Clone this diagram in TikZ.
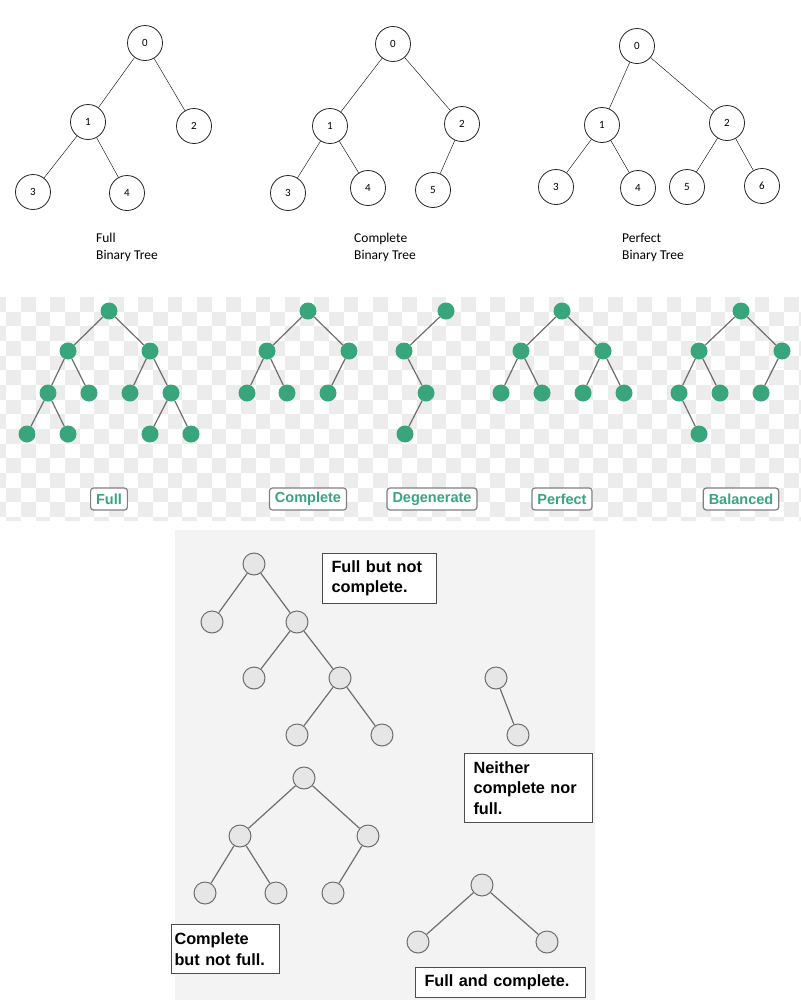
\documentclass[tikz,border=0pt]{standalone}
\usepackage{fontspec}
\setmainfont{Liberation Sans}
\newfontfamily\calfont{Carlito}
\definecolor{treegreen}{RGB}{56,165,125}
\definecolor{edgegrey}{RGB}{110,110,110}
\definecolor{checkgrey}{RGB}{236,236,236}
\definecolor{panelgrey}{RGB}{243,243,243}
\definecolor{nodegrey}{RGB}{230,230,230}
\tikzset{
  numnode/.style={circle, draw=black!85, line width=0.8pt, minimum size=35pt, inner sep=0pt, font=\calfont\fontsize{11}{11}\selectfont},
  dotnode/.style={circle, fill=treegreen, minimum size=17pt, inner sep=0pt},
  greynode/.style={circle, draw=edgegrey, fill=nodegrey, line width=1pt, minimum size=22pt, inner sep=0pt},
  kindtag/.style={draw=gray, line width=1.2pt, rounded corners=3pt, fill=white, text=treegreen, font=\bfseries\fontsize{14.5}{15}\selectfont, inner xsep=5.5pt, inner ysep=0pt, minimum height=22pt},
  notebox/.style={draw=black!70, line width=1pt, fill=white, anchor=north west, align=left, inner xsep=9pt, inner ysep=0pt, font=\bfseries\fontsize{16.3}{20.5}\selectfont},
  toplabel/.style={anchor=base west, inner sep=0pt, align=left, font=\calfont\fontsize{13.5}{16.5}\selectfont},
  gline/.style={draw=edgegrey, line width=1.2pt},
}
\begin{document}
\begin{tikzpicture}[x=1pt,y=-1pt]
        \useasboundingbox (0,0) rectangle (801,1002);
        \fill[white] (0,0) rectangle (801,1002);

        % top trees
        \node[numnode] (f0) at (145,43) {0};
        \node[numnode] (f1) at (88,122) {1};
        \node[numnode] (f2) at (194,126) {2};
        \node[numnode] (f3) at (33,192) {3};
        \node[numnode] (f4) at (127,193) {4};
        \draw (f0) -- (f1);\draw (f0) -- (f2);\draw (f1) -- (f3);\draw (f1) -- (f4);

        \node[numnode] (c0) at (393,44) {0};
        \node[numnode] (c1) at (330,126) {1};
        \node[numnode] (c2) at (462,124) {2};
        \node[numnode] (c3) at (288,193) {3};
        \node[numnode] (c4) at (368,188) {4};
        \node[numnode] (c5) at (433,190) {5};
        \draw (c0) -- (c1);\draw (c0) -- (c2);\draw (c1) -- (c3);\draw (c1) -- (c4);\draw (c2) -- (c5);

        \node[numnode] (p0) at (637,46) {0};
        \node[numnode] (p1) at (602,125) {1};
        \node[numnode] (p2) at (727,123) {2};
        \node[numnode] (p3) at (556,187) {3};
        \node[numnode] (p4) at (638,188) {4};
        \node[numnode] (p5) at (687,187) {5};
        \node[numnode] (p6) at (762,186) {6};
        \draw (p0) -- (p1);\draw (p0) -- (p2);\draw (p1) -- (p3);\draw (p1) -- (p4);\draw (p2) -- (p5);\draw (p2) -- (p6);

        \node[toplabel] (ftxt) at (96,259) {Full\\Binary Tree};
        \node[toplabel] (ctxt) at (354,259) {Complete\\Binary Tree};
        \node[toplabel] (ptxt) at (622,259) {Perfect\\Binary Tree};

        % checker band
        \begin{scope}
        \clip (0,297) rectangle (801,520);
        \foreach \i in {0,2,...,56} \foreach \j in {0,2,...,16} {
          \fill[checkgrey] ({-8.3+\i*14.67},{297+\j*14.67}) rectangle +(14.67,14.67);
          \fill[checkgrey] ({-8.3+(\i+1)*14.67},{297+(\j+1)*14.67}) rectangle +(14.67,14.67);
        }
        \end{scope}

        % green trees
        \node[dotnode] (mf0) at (109,311) {};
        \node[dotnode] (mf1) at (68,351) {};\node[dotnode] (mf2) at (150,351) {};
        \node[dotnode] (mf3) at (48,393) {};\node[dotnode] (mf4) at (89,393) {};
        \node[dotnode] (mf5) at (130,393) {};\node[dotnode] (mf6) at (171,393) {};
        \node[dotnode] (mf7) at (27,434) {};\node[dotnode] (mf8) at (68,434) {};
        \node[dotnode] (mf9) at (150,434) {};\node[dotnode] (mf10) at (191,434) {};
        \draw[gline] (mf0) -- (mf1);\draw[gline] (mf0) -- (mf2);
        \draw[gline] (mf1) -- (mf3);\draw[gline] (mf1) -- (mf4);
        \draw[gline] (mf2) -- (mf5);\draw[gline] (mf2) -- (mf6);
        \draw[gline] (mf3) -- (mf7);\draw[gline] (mf3) -- (mf8);
        \draw[gline] (mf6) -- (mf9);\draw[gline] (mf6) -- (mf10);

        \node[dotnode] (mc0) at (308,311) {};
        \node[dotnode] (mc1) at (267,351) {};\node[dotnode] (mc2) at (349,351) {};
        \node[dotnode] (mc3) at (247,393) {};\node[dotnode] (mc4) at (287,393) {};
        \node[dotnode] (mc5) at (328,393) {};
        \draw[gline] (mc0) -- (mc1);\draw[gline] (mc0) -- (mc2);
        \draw[gline] (mc1) -- (mc3);\draw[gline] (mc1) -- (mc4);\draw[gline] (mc2) -- (mc5);

        \node[dotnode] (md0) at (446,311) {};
        \node[dotnode] (md1) at (404,351) {};
        \node[dotnode] (md2) at (426,393) {};
        \node[dotnode] (md3) at (405,434) {};
        \draw[gline] (md0) -- (md1);\draw[gline] (md1) -- (md2);\draw[gline] (md2) -- (md3);

        \node[dotnode] (mp0) at (562,311) {};
        \node[dotnode] (mp1) at (521,351) {};\node[dotnode] (mp2) at (603,351) {};
        \node[dotnode] (mp3) at (501,393) {};\node[dotnode] (mp4) at (542,393) {};
        \node[dotnode] (mp5) at (583,393) {};\node[dotnode] (mp6) at (624,393) {};
        \draw[gline] (mp0) -- (mp1);\draw[gline] (mp0) -- (mp2);
        \draw[gline] (mp1) -- (mp3);\draw[gline] (mp1) -- (mp4);
        \draw[gline] (mp2) -- (mp5);\draw[gline] (mp2) -- (mp6);

        \node[dotnode] (mb0) at (741,311) {};
        \node[dotnode] (mb1) at (699,351) {};\node[dotnode] (mb2) at (782,351) {};
        \node[dotnode] (mb3) at (679,393) {};\node[dotnode] (mb4) at (720,393) {};
        \node[dotnode] (mb5) at (761,393) {};
        \node[dotnode] (mb6) at (699,434) {};
        \draw[gline] (mb0) -- (mb1);\draw[gline] (mb0) -- (mb2);
        \draw[gline] (mb1) -- (mb3);\draw[gline] (mb1) -- (mb4);
        \draw[gline] (mb2) -- (mb5);\draw[gline] (mb3) -- (mb6);

        \node[kindtag] (tfull) at (109,499) {Full};
        \node[kindtag] (tcomp) at (308,499) {Complete};
        \node[kindtag] (tdege) at (432,499) {Degenerate};
        \node[kindtag] (tperf) at (562,499) {Perfect};
        \node[kindtag] (tbala) at (741,499) {Balanced};

        % grey panel
        \fill[panelgrey] (175,530) rectangle (595,1000);

        \node[greynode] (ba0) at (254,564) {};
        \node[greynode] (ba1) at (212,622) {};\node[greynode] (ba2) at (297,622) {};
        \node[greynode] (ba3) at (254,678) {};\node[greynode] (ba4) at (340,678) {};
        \node[greynode] (ba5) at (297,735) {};\node[greynode] (ba6) at (382,735) {};
        \draw[gline] (ba0) -- (ba1);\draw[gline] (ba0) -- (ba2);
        \draw[gline] (ba2) -- (ba3);\draw[gline] (ba2) -- (ba4);
        \draw[gline] (ba4) -- (ba5);\draw[gline] (ba4) -- (ba6);

        \node[greynode] (bb0) at (496,678) {};
        \node[greynode] (bb1) at (518,735) {};
        \draw[gline] (bb0) -- (bb1);

        \node[greynode] (bc0) at (304,778) {};
        \node[greynode] (bc1) at (240,836) {};\node[greynode] (bc2) at (368,836) {};
        \node[greynode] (bc3) at (205,893) {};\node[greynode] (bc4) at (276,893) {};
        \node[greynode] (bc5) at (333,893) {};
        \draw[gline] (bc0) -- (bc1);\draw[gline] (bc0) -- (bc2);
        \draw[gline] (bc1) -- (bc3);\draw[gline] (bc1) -- (bc4);\draw[gline] (bc2) -- (bc5);

        \node[greynode] (bd0) at (482,885) {};
        \node[greynode] (bd1) at (418,942) {};\node[greynode] (bd2) at (547,942) {};
        \draw[gline] (bd0) -- (bd1);\draw[gline] (bd0) -- (bd2);

        % boxes
        \node[notebox, text width=96pt, minimum height=50pt] (nfull) at (322,553) {Full but not\\complete.};
        \node[notebox, text width=110pt, minimum height=69pt] (nneit) at (464,753) {Neither\\complete nor\\full.};
        \node[notebox, inner xsep=3pt, text width=102pt, minimum height=49pt] (ncomp) at (171,924) {Complete\\but not full.};
        \node[notebox, text width=152pt, minimum height=30pt] (nboth) at (415,967) {Full and complete.};
\end{tikzpicture}
\end{document}
